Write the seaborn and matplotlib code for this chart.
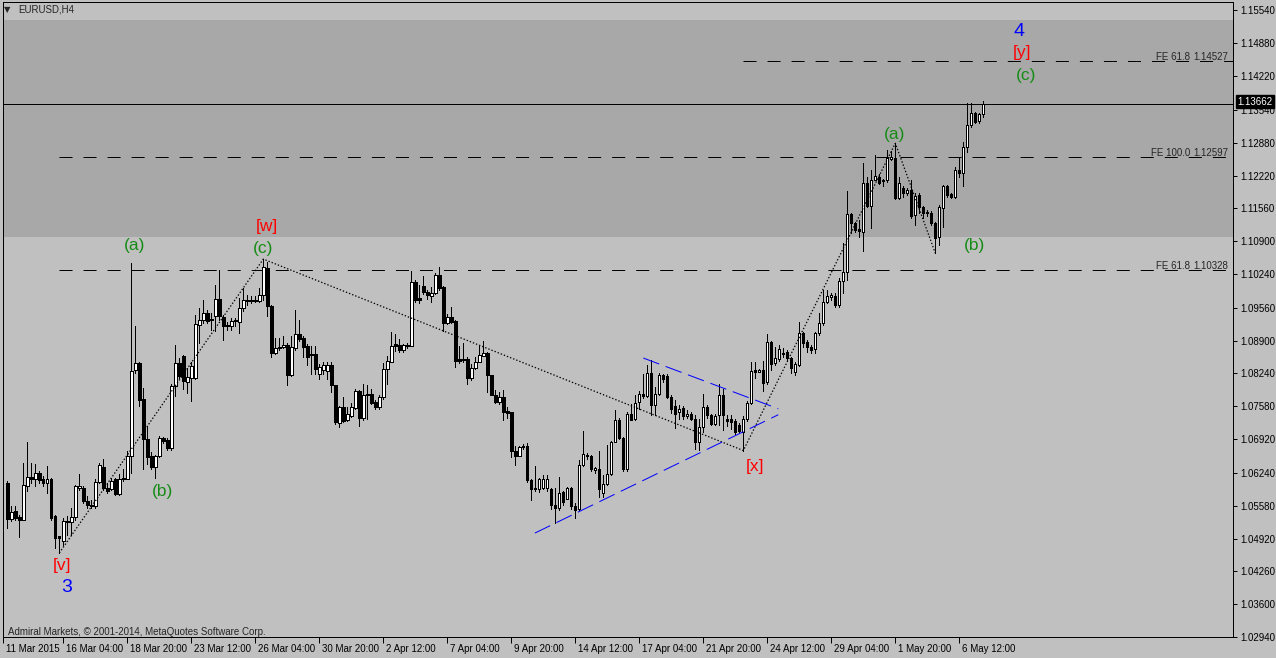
import numpy as np
import pandas as pd
import matplotlib
matplotlib.use("Agg")
import matplotlib.pyplot as plt
import matplotlib.transforms as mtransforms
import seaborn as sns

#%% EURUSD H4 bars (bar index 0 = 11 Mar 2015 12:00)

opens = [
    1.0603, 1.0531, 1.0548, 1.0535, 1.0530, 1.0598, 1.0615, 1.0611, 1.0624, 1.0612,
    1.0603, 1.0611, 1.0537, 1.0497, 1.0487, 1.0528, 1.0525, 1.0535, 1.0594, 1.0594,
    1.0567, 1.0557, 1.0557, 1.0606, 1.0636, 1.0594, 1.0592, 1.0611, 1.0582, 1.0612,
    1.0612, 1.0657, 1.0830, 1.0846, 1.0773, 1.0692, 1.0657, 1.0636, 1.0657, 1.0694,
    1.0691, 1.0674, 1.0798, 1.0846, 1.0860, 1.0806, 1.0815, 1.0815, 1.0922, 1.0932,
    1.0946, 1.0933, 1.0939, 1.0974, 1.0937, 1.0922, 1.0920, 1.0931, 1.0928, 1.0956,
    1.0969, 1.0972, 1.0971, 1.0970, 1.0982, 1.1036, 1.0960, 1.0866, 1.0875, 1.0878,
    1.0882, 1.0820, 1.0875, 1.0904, 1.0895, 1.0880, 1.0864, 1.0864, 1.0823, 1.0830,
    1.0828, 1.0840, 1.0800, 1.0724, 1.0756, 1.0731, 1.0739, 1.0754, 1.0788, 1.0734,
    1.0783, 1.0783, 1.0766, 1.0756, 1.0776, 1.0832, 1.0848, 1.0883, 1.0882, 1.0871,
    1.0881, 1.0880, 1.1007, 1.0975, 1.1000, 1.0987, 1.0979, 1.0986, 1.1022, 1.0997,
    1.0926, 1.0937, 1.0930, 1.0853, 1.0853, 1.0854, 1.0814, 1.0834, 1.0848, 1.0860,
    1.0865, 1.0820, 1.0780, 1.0766, 1.0776, 1.0748, 1.0746, 1.0669, 1.0659, 1.0676,
    1.0679, 1.0609, 1.0594, 1.0592, 1.0593, 1.0593, 1.0591, 1.0560, 1.0553, 1.0585,
    1.0572, 1.0593, 1.0557, 1.0552, 1.0639, 1.0658, 1.0659, 1.0629, 1.0631, 1.0584,
    1.0602, 1.0622, 1.0687, 1.0731, 1.0694, 1.0632, 1.0743, 1.0733, 1.0767, 1.0782,
    1.0778, 1.0824, 1.0760, 1.0782, 1.0820, 1.0818, 1.0777, 1.0758, 1.0747, 1.0755,
    1.0738, 1.0743, 1.0733, 1.0686, 1.0717, 1.0757, 1.0740, 1.0723, 1.0740, 1.0780,
    1.0733, 1.0732, 1.0728, 1.0721, 1.0706, 1.0732, 1.0765, 1.0830, 1.0827, 1.0830,
    1.0807, 1.0887, 1.0846, 1.0854, 1.0863, 1.0868, 1.0855, 1.0826, 1.0841, 1.0906,
    1.0887, 1.0878, 1.0873, 1.0905, 1.0926, 1.0968, 1.0977, 1.0980, 1.0962, 1.1009,
    1.1029, 1.1145, 1.1127, 1.1114, 1.1109, 1.1208, 1.1161, 1.1214, 1.1220, 1.1212,
    1.1213, 1.1255, 1.1257, 1.1176, 1.1196, 1.1186, 1.1193, 1.1143, 1.1183, 1.1158,
    1.1149, 1.1146, 1.1126, 1.1099, 1.1156, 1.1200, 1.1185, 1.1179, 1.1234, 1.1228,
    1.1280, 1.1324, 1.1347, 1.1332, 1.1346,
]
highs = [
    1.0607, 1.0557, 1.0557, 1.0540, 1.0644, 1.0686, 1.0644, 1.0641, 1.0627, 1.0617,
    1.0637, 1.0614, 1.0540, 1.0498, 1.0533, 1.0537, 1.0554, 1.0600, 1.0621, 1.0597,
    1.0577, 1.0570, 1.0611, 1.0644, 1.0652, 1.0604, 1.0614, 1.0614, 1.0621, 1.0631,
    1.0669, 1.1046, 1.0920, 1.0848, 1.0795, 1.0718, 1.0667, 1.0661, 1.0698, 1.0696,
    1.0694, 1.0803, 1.0882, 1.0855, 1.0862, 1.0835, 1.0848, 1.0942, 1.0956, 1.0971,
    1.0952, 1.0946, 1.1002, 1.1033, 1.0942, 1.0927, 1.0935, 1.0935, 1.0976, 1.0996,
    1.0982, 1.0979, 1.0979, 1.0996, 1.1054, 1.1049, 1.0962, 1.0895, 1.0895, 1.0899,
    1.0885, 1.0899, 1.0951, 1.0932, 1.0899, 1.0884, 1.0879, 1.0879, 1.0843, 1.0847,
    1.0847, 1.0847, 1.0801, 1.0759, 1.0776, 1.0756, 1.0765, 1.0793, 1.0790, 1.0803,
    1.0801, 1.0792, 1.0770, 1.0780, 1.0846, 1.0860, 1.0907, 1.0903, 1.0893, 1.0883,
    1.0885, 1.1031, 1.1011, 1.1001, 1.1019, 1.0991, 1.0997, 1.1026, 1.1039, 1.0999,
    1.0944, 1.0957, 1.0932, 1.0880, 1.0885, 1.0857, 1.0843, 1.0857, 1.0880, 1.0890,
    1.0868, 1.0821, 1.0790, 1.0786, 1.0790, 1.0756, 1.0747, 1.0679, 1.0679, 1.0682,
    1.0684, 1.0612, 1.0637, 1.0613, 1.0620, 1.0619, 1.0593, 1.0593, 1.0615, 1.0587,
    1.0595, 1.0595, 1.0564, 1.0649, 1.0709, 1.0664, 1.0660, 1.0636, 1.0669, 1.0619,
    1.0680, 1.0689, 1.0751, 1.0734, 1.0696, 1.0746, 1.0763, 1.0780, 1.0789, 1.0822,
    1.0841, 1.0852, 1.0797, 1.0824, 1.0822, 1.0822, 1.0780, 1.0770, 1.0760, 1.0758,
    1.0751, 1.0747, 1.0740, 1.0733, 1.0783, 1.0760, 1.0743, 1.0743, 1.0803, 1.0793,
    1.0741, 1.0741, 1.0733, 1.0725, 1.0738, 1.0768, 1.0847, 1.0848, 1.0832, 1.0850,
    1.0904, 1.0889, 1.0877, 1.0881, 1.0875, 1.0871, 1.0858, 1.0847, 1.0928, 1.0908,
    1.0892, 1.0881, 1.0908, 1.0945, 1.0992, 1.0992, 1.0985, 1.0985, 1.1015, 1.1086,
    1.1190, 1.1146, 1.1129, 1.1133, 1.1247, 1.1220, 1.1233, 1.1263, 1.1225, 1.1216,
    1.1273, 1.1272, 1.1287, 1.1220, 1.1201, 1.1196, 1.1213, 1.1186, 1.1186, 1.1161,
    1.1153, 1.1151, 1.1129, 1.1163, 1.1203, 1.1203, 1.1186, 1.1240, 1.1260, 1.1290,
    1.1368, 1.1368, 1.1350, 1.1348, 1.1372,
]
lows = [
    1.0513, 1.0527, 1.0530, 1.0495, 1.0529, 1.0587, 1.0604, 1.0597, 1.0604, 1.0598,
    1.0584, 1.0530, 1.0473, 1.0463, 1.0480, 1.0500, 1.0500, 1.0530, 1.0590, 1.0564,
    1.0554, 1.0554, 1.0554, 1.0604, 1.0590, 1.0584, 1.0589, 1.0580, 1.0580, 1.0607,
    1.0611, 1.0624, 1.0825, 1.0758, 1.0632, 1.0641, 1.0632, 1.0614, 1.0656, 1.0684,
    1.0671, 1.0671, 1.0778, 1.0815, 1.0793, 1.0785, 1.0768, 1.0812, 1.0885, 1.0925,
    1.0925, 1.0912, 1.0909, 1.0932, 1.0892, 1.0912, 1.0912, 1.0919, 1.0905, 1.0949,
    1.0962, 1.0966, 1.0967, 1.0967, 1.0972, 1.0939, 1.0857, 1.0864, 1.0872, 1.0875,
    1.0800, 1.0818, 1.0872, 1.0889, 1.0858, 1.0841, 1.0822, 1.0822, 1.0813, 1.0823,
    1.0813, 1.0786, 1.0723, 1.0716, 1.0726, 1.0729, 1.0736, 1.0753, 1.0719, 1.0731,
    1.0733, 1.0763, 1.0753, 1.0753, 1.0773, 1.0803, 1.0847, 1.0870, 1.0867, 1.0868,
    1.0876, 1.0879, 1.0967, 1.0966, 1.0984, 1.0974, 1.0967, 1.0984, 1.0991, 1.0910,
    1.0924, 1.0926, 1.0836, 1.0846, 1.0848, 1.0803, 1.0810, 1.0832, 1.0847, 1.0859,
    1.0786, 1.0780, 1.0765, 1.0763, 1.0731, 1.0734, 1.0656, 1.0639, 1.0658, 1.0672,
    1.0605, 1.0569, 1.0587, 1.0585, 1.0591, 1.0587, 1.0552, 1.0524, 1.0550, 1.0560,
    1.0571, 1.0552, 1.0533, 1.0550, 1.0637, 1.0652, 1.0627, 1.0624, 1.0575, 1.0575,
    1.0599, 1.0619, 1.0686, 1.0693, 1.0627, 1.0627, 1.0730, 1.0730, 1.0753, 1.0774,
    1.0777, 1.0740, 1.0740, 1.0780, 1.0807, 1.0774, 1.0745, 1.0715, 1.0733, 1.0733,
    1.0735, 1.0731, 1.0673, 1.0670, 1.0706, 1.0734, 1.0720, 1.0720, 1.0720, 1.0710,
    1.0718, 1.0713, 1.0703, 1.0705, 1.0669, 1.0728, 1.0763, 1.0814, 1.0826, 1.0788,
    1.0803, 1.0830, 1.0840, 1.0850, 1.0858, 1.0851, 1.0824, 1.0820, 1.0838, 1.0878,
    1.0868, 1.0865, 1.0865, 1.0902, 1.0922, 1.0966, 1.0972, 1.0958, 1.0958, 1.0985,
    1.1012, 1.1106, 1.1109, 1.1099, 1.1071, 1.1159, 1.1116, 1.1213, 1.1205, 1.1201,
    1.1210, 1.1253, 1.1174, 1.1174, 1.1179, 1.1183, 1.1136, 1.1123, 1.1146, 1.1136,
    1.1141, 1.1123, 1.1066, 1.1082, 1.1119, 1.1179, 1.1176, 1.1176, 1.1220, 1.1201,
    1.1270, 1.1320, 1.1327, 1.1328, 1.1339,
]
closes = [
    1.0531, 1.0545, 1.0533, 1.0530, 1.0599, 1.0616, 1.0611, 1.0624, 1.0609, 1.0604,
    1.0611, 1.0533, 1.0493, 1.0493, 1.0527, 1.0525, 1.0535, 1.0597, 1.0597, 1.0567,
    1.0560, 1.0560, 1.0606, 1.0639, 1.0594, 1.0587, 1.0607, 1.0582, 1.0612, 1.0614,
    1.0657, 1.0828, 1.0846, 1.0771, 1.0692, 1.0656, 1.0636, 1.0657, 1.0694, 1.0688,
    1.0674, 1.0798, 1.0846, 1.0818, 1.0808, 1.0817, 1.0838, 1.0923, 1.0932, 1.0946,
    1.0929, 1.0931, 1.0974, 1.0940, 1.0919, 1.0919, 1.0930, 1.0929, 1.0956, 1.0971,
    1.0971, 1.0969, 1.0969, 1.0982, 1.1038, 1.0959, 1.0866, 1.0875, 1.0878, 1.0882,
    1.0820, 1.0878, 1.0904, 1.0893, 1.0877, 1.0858, 1.0861, 1.0833, 1.0836, 1.0840,
    1.0840, 1.0800, 1.0726, 1.0756, 1.0729, 1.0743, 1.0756, 1.0788, 1.0734, 1.0781,
    1.0780, 1.0765, 1.0756, 1.0776, 1.0832, 1.0850, 1.0880, 1.0879, 1.0871, 1.0881,
    1.0880, 1.1007, 1.0972, 1.0972, 1.0987, 1.0981, 1.0986, 1.1022, 1.0995, 1.0926,
    1.0937, 1.0928, 1.0850, 1.0850, 1.0851, 1.0814, 1.0834, 1.0848, 1.0861, 1.0865,
    1.0820, 1.0781, 1.0766, 1.0776, 1.0746, 1.0745, 1.0669, 1.0659, 1.0676, 1.0679,
    1.0609, 1.0591, 1.0591, 1.0612, 1.0612, 1.0612, 1.0559, 1.0553, 1.0584, 1.0566,
    1.0593, 1.0558, 1.0550, 1.0639, 1.0662, 1.0660, 1.0631, 1.0634, 1.0592, 1.0602,
    1.0622, 1.0687, 1.0731, 1.0694, 1.0632, 1.0743, 1.0731, 1.0765, 1.0782, 1.0778,
    1.0824, 1.0760, 1.0782, 1.0820, 1.0812, 1.0777, 1.0753, 1.0743, 1.0753, 1.0738,
    1.0743, 1.0733, 1.0686, 1.0717, 1.0757, 1.0740, 1.0723, 1.0738, 1.0780, 1.0740,
    1.0728, 1.0726, 1.0706, 1.0708, 1.0732, 1.0765, 1.0828, 1.0827, 1.0830, 1.0805,
    1.0887, 1.0844, 1.0855, 1.0874, 1.0866, 1.0855, 1.0834, 1.0843, 1.0906, 1.0885,
    1.0878, 1.0871, 1.0905, 1.0926, 1.0968, 1.0980, 1.0982, 1.0962, 1.1009, 1.1029,
    1.1145, 1.1126, 1.1113, 1.1111, 1.1208, 1.1161, 1.1214, 1.1221, 1.1208, 1.1214,
    1.1257, 1.1259, 1.1176, 1.1208, 1.1186, 1.1193, 1.1141, 1.1181, 1.1158, 1.1146,
    1.1146, 1.1126, 1.1096, 1.1159, 1.1200, 1.1183, 1.1179, 1.1234, 1.1228, 1.1280,
    1.1324, 1.1347, 1.1330, 1.1346, 1.1366,
]

# time axis labels (every 16 bars) and price axis labels
date_ticks = [-1, 14, 30, 46, 62, 78, 94, 110, 126, 142, 158, 174, 190, 206, 222, 238]
date_labels = ['11 Mar 2015', '16 Mar 04:00', '18 Mar 20:00', '23 Mar 12:00',
               '26 Mar 04:00', '30 Mar 20:00', '2 Apr 12:00', '7 Apr 04:00',
               '9 Apr 20:00', '14 Apr 12:00', '17 Apr 04:00', '21 Apr 20:00',
               '24 Apr 12:00', '29 Apr 04:00', '1 May 20:00', '6 May 12:00']
price_ticks = [1.15540, 1.14880, 1.14220, 1.13540, 1.12880, 1.12220, 1.11560,
               1.10900, 1.10240, 1.09560, 1.08900, 1.08240, 1.07580, 1.06920,
               1.06240, 1.05580, 1.04920, 1.04260, 1.03600, 1.02940]
last_price = 1.13662

# fibo expansion levels
fe_prices = [1.14527, 1.12597, 1.10328]
fe_names = ['FE 61.8', 'FE 100.0', 'FE 61.8']
fe_start_bar = [184, 13, 13]

# zone (darker band)
zone_low, zone_high = 1.1098, 1.1535

# wave zigzag: [v] -> (c)[w] -> [x] -> (a) -> (b)
wave_bars = [13, 64, 184, 222, 232]
wave_prices = [1.0463, 1.1054, 1.0669, 1.1287, 1.1066]

# triangle trend lines (bar, price) pairs
tri_upper_bars, tri_upper_prices = [159.0, 192.75], [1.0855, 1.0753]
tri_lower_bars, tri_lower_prices = [131.9, 192.75], [1.0503, 1.0741]

# wave labels
wave_labels = ['(a)', '(b)', '(c)', '[w]', '[v]', '3', '[x]', '(a)', '(b)', '4', '[y]', '(c)']
label_bars = [31.7, 38.9, 63.9, 64.9, 13.7, 14.9, 186.9, 221.9, 241.9, 252.9, 253.7, 254.7]
label_prices = [1.1081, 1.0586, 1.1075, 1.1119, 1.0437, 1.0393, 1.0636, 1.1304,
                1.1081, 1.1511, 1.1469, 1.1424]

#%% styling

BG = '#c0c0c0'
ZONE = '#a8a8a8'
GREEN = '#168c16'
RED = '#ff0000'
BLUE = '#0000ff'
PX = 0.72  # one pixel in points at 100 dpi

sns.set_theme(style='white', rc={'axes.facecolor': BG, 'figure.facecolor': BG,
                                 'axes.edgecolor': 'black', 'lines.scale_dashes': False})
plt.rcParams['font.family'] = ['Liberation Sans', 'DejaVu Sans']

W, H = 1276, 658
fig = plt.figure(figsize=(W / 100, H / 100), dpi=100)
ax = fig.add_axes([3 / W, 1 - 637 / H, 1230 / W, 635 / H])
ax.set_xlim(-1.075, 306.425)
ax.set_ylim(1.0295, 1.1571)

ax.axhspan(zone_low, zone_high, color=ZONE, lw=0, zorder=0)

bars = pd.DataFrame({'open': opens, 'high': highs, 'low': lows, 'close': closes})
bars['bar'] = np.arange(len(bars))
bars['bull'] = bars['close'] >= bars['open']
bars['body'] = (bars['close'] - bars['open']).abs().clip(lower=0.00003)
bars['bottom'] = bars[['open', 'close']].min(axis=1)

ax.vlines(bars['bar'], bars['low'], bars['high'], color='black', lw=PX,
          antialiased=False, zorder=3)
ax.bar(bars['bar'], bars['body'], bottom=bars['bottom'], width=0.6,
       color=np.where(bars['bull'], 'white', 'black'), edgecolor='black',
       linewidth=PX, antialiased=False, zorder=4)

# fibo lines
for price, name, start in zip(fe_prices, fe_names, fe_start_bar):
    ax.plot([start, 306.4], [price, price], color='black', lw=PX,
            dashes=(9.4, 7.9), zorder=2)
    ax.text(295.8, price - 0.0002, name, ha='right', va='bottom', fontsize=7, zorder=5)
    ax.text(305.3, price - 0.0002, f'{price:.5f}', ha='right', va='bottom',
            fontsize=7, zorder=5)

ax.axhline(last_price, color='black', lw=PX, zorder=2)

# wave zigzag (dotted)
wave = pd.DataFrame({'bar': wave_bars, 'price': wave_prices})
sns.lineplot(data=wave, x='bar', y='price', ax=ax, sort=False, color='black',
             lw=0.9, zorder=5)
ax.lines[-1].set_dashes((1.0, 1.4))

for xs, ys in [(tri_upper_bars, tri_upper_prices), (tri_lower_bars, tri_lower_prices)]:
    ax.plot(xs, ys, color=BLUE, lw=PX, dashes=(12.2, 5.0), zorder=5)

colors = {'(': GREEN, '[': RED}
for txt, bx, py in zip(wave_labels, label_bars, label_prices):
    col = colors.get(txt[0], BLUE)
    size = 14 if col == BLUE else 12.5
    ax.text(bx, py, txt, color=col, fontsize=size, ha='center', va='center', zorder=6)

# axes / ticks
ax.yaxis.tick_right()
ax.set_yticks(price_ticks)
ax.set_yticklabels([f'{p:.5f}' for p in price_ticks])
ax.set_xticks(date_ticks)
ax.set_xticklabels(date_labels)
ax.tick_params(axis='y', direction='out', length=3, width=PX, pad=2, labelsize=7,
               colors='black', right=True, left=False)
ax.tick_params(axis='x', direction='out', length=4, width=PX, pad=1, labelsize=7,
               colors='black', bottom=True)
shift = mtransforms.ScaledTranslation(3 / 100, 0, fig.dpi_scale_trans)
for lab in ax.get_xticklabels():
    lab.set_horizontalalignment('left')
    lab.set_transform(lab.get_transform() + shift)
ax.set_xlabel('')
ax.set_ylabel('')
ax.xaxis.label.set_visible(False)
ax.yaxis.label.set_visible(False)
for sp in ax.spines.values():
    sp.set_linewidth(PX)
    sp.set_color('black')

# last price marker on the price scale
box_tr = mtransforms.blended_transform_factory(ax.transAxes, ax.transData) + \
    mtransforms.ScaledTranslation(4 / 100, 2 / 100, fig.dpi_scale_trans)
ax.text(1.0, last_price, f'{last_price:.5f}', transform=box_tr, ha='left', va='center',
        color='white', fontsize=7, clip_on=False, zorder=10,
        bbox=dict(boxstyle='square,pad=0.15', fc='black', ec='black'))

# chart header and footer
fig.text(7 / W, 1 - 10 / H, '\u25bc', fontsize=6, ha='center', va='center',
         family=['DejaVu Sans'])
fig.text(18 / W, 1 - 10 / H, 'EURUSD,H4', fontsize=7, ha='left', va='center')
fig.text(8 / W, 1 - 632 / H, 'Admiral Markets, \u00a9 2001-2014, MetaQuotes Software Corp.',
         fontsize=7, ha='left', va='center')

fig.savefig('out.png', dpi=100, facecolor=BG)
